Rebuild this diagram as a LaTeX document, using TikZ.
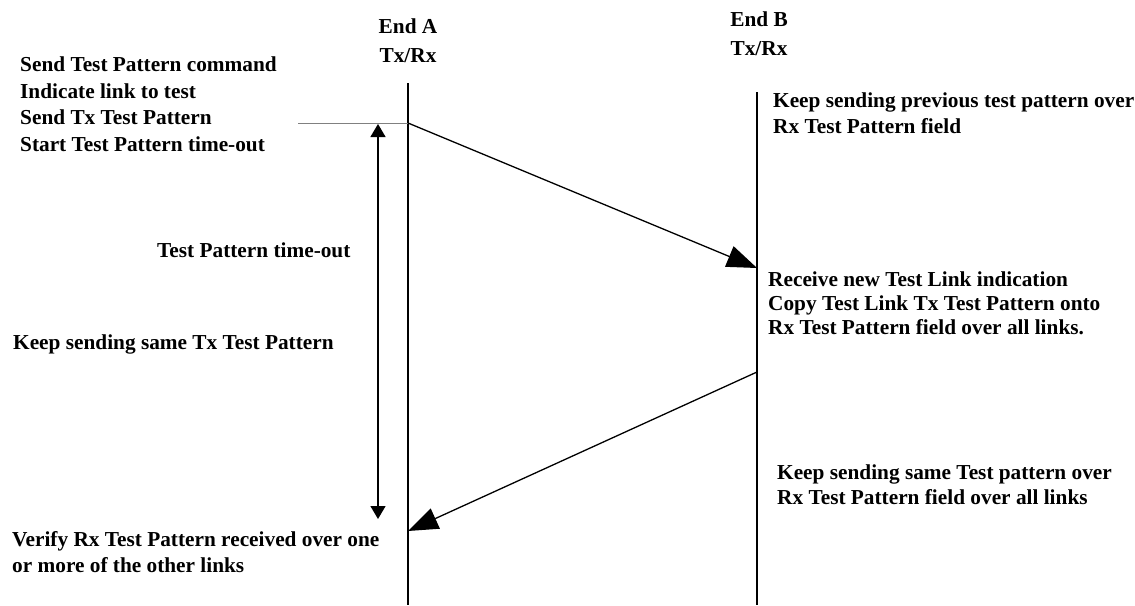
\documentclass[tikz,border=0pt]{standalone}
\usepackage{fontspec}
\setmainfont{Liberation Serif}
\usetikzlibrary{arrows.meta}

\tikzset{
  lbl/.style = {inner sep=0pt, anchor=north west, align=left, font=\bfseries\fontsize{21.3}{26.5}\selectfont},
  endlbl/.style = {inner sep=0pt, anchor=north, align=center, font=\bfseries\fontsize{21.3}{29}\selectfont},
  life/.style = {line width=1.3pt},
  msg/.style = {line width=1.3pt, -{Triangle[length=30pt,width=22pt]}},
  span/.style = {line width=1.3pt, {Triangle[length=13pt,width=15pt]}-{Triangle[length=13pt,width=15pt]}}
}

\begin{document}
\begin{tikzpicture}[x=1pt, y=-1pt]
 \useasboundingbox (0,0) rectangle (1135,605);

 % the two ends
 \node[endlbl] (endA) at (408,19) {End A\\Tx/Rx};
 \node[endlbl] (endB) at (759,12) {End B\\Tx/Rx};
 \coordinate (aTop) at (408,83);
 \coordinate (aBot) at (408,605);
 \coordinate (bTop) at (757,92);
 \coordinate (bBot) at (757,605);
 \draw[life] (aTop) -- (aBot);
 \draw[life] (bTop) -- (bBot);

 % message points
 \coordinate (cmdEnd) at (298,123);
 \coordinate (aSend) at (408,123);
 \coordinate (bRecv) at (757,268);
 \coordinate (bSend) at (757,372);
 \coordinate (aRecv) at (408,531);
 \coordinate (tStart) at (378,124);
 \coordinate (tEnd) at (378,519);

 \draw[gray, line width=0.9pt] (cmdEnd) -- (aSend);
 \draw[msg] (aSend) -- (bRecv);
 \draw[msg] (bSend) -- (aRecv);
 \draw[span] (tStart) -- (tEnd);

 % texts
 \node[lbl] (cmd) at (20,57) {Send Test Pattern command\\Indicate link to test\\Send Tx Test Pattern\\Start Test Pattern time-out};
 \node[lbl] (timeout) at (157,243) {Test Pattern time-out};
 \node[lbl] (keepTx) at (13,335) {Keep sending same Tx Test Pattern};
 \node[lbl, font=\bfseries\fontsize{21.3}{26}\selectfont] (verify) at (12,531) {Verify Rx Test Pattern received over one\\or more of the other links};
 \node[lbl, font=\bfseries\fontsize{21.3}{26}\selectfont] (prev) at (773,93) {Keep sending previous test pattern over\\Rx Test Pattern field};
 \node[lbl, font=\bfseries\fontsize{21.3}{24}\selectfont] (recv) at (768,272) {Receive new Test Link indication\\Copy Test Link Tx Test Pattern onto\\Rx Test Pattern field over all links.};
 \node[lbl, font=\bfseries\fontsize{21.3}{25}\selectfont] (keepSame) at (777,465) {Keep sending same Test pattern over\\Rx Test Pattern field over all links};
\end{tikzpicture}
\end{document}
